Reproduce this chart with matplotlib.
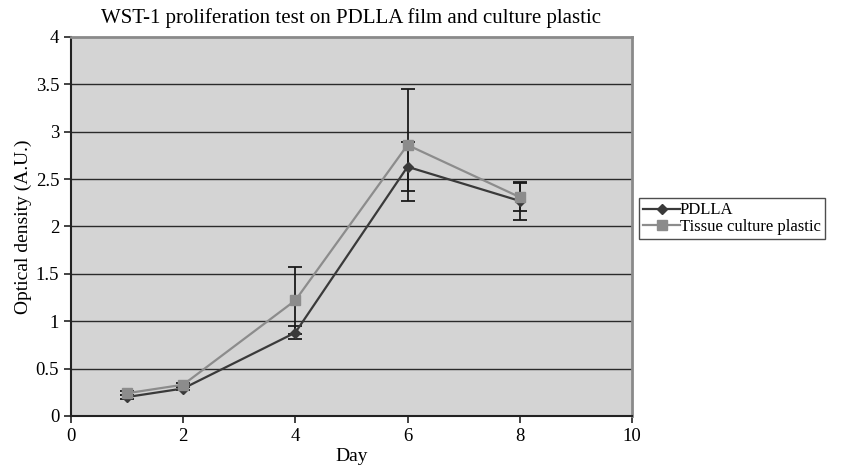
import matplotlib
matplotlib.use("Agg")
import matplotlib.pyplot as plt

days = [1, 2, 4, 6, 8]
pdlla = [0.20, 0.29, 0.88, 2.63, 2.27]
pdlla_err = [0.02, 0.02, 0.07, 0.26, 0.20]
tcp = [0.24, 0.33, 1.22, 2.86, 2.31]
tcp_err = [0.02, 0.02, 0.35, 0.59, 0.15]

plt.rcParams['font.family'] = ['Liberation Serif', 'DejaVu Serif']

fig = plt.figure(figsize=(8.46, 4.74), dpi=100)
ax = fig.add_axes([0.0839, 0.1224, 0.663, 0.7996])
ax.set_facecolor('#d4d4d4')

for y in [0.5, 1, 1.5, 2, 2.5, 3, 3.5]:
    ax.axhline(y, color='#2a2a2a', lw=1.0, zorder=1)

ax.errorbar(days, pdlla, yerr=pdlla_err, fmt='none', ecolor='#1a1a1a', elinewidth=1.3,
            capsize=5, capthick=1.3, zorder=3)
ax.errorbar(days, tcp, yerr=tcp_err, fmt='none', ecolor='#1a1a1a', elinewidth=1.3,
            capsize=5, capthick=1.3, zorder=3)
ax.plot(days, pdlla, color='#3a3a3a', lw=1.6, marker='D', ms=5, label='PDLLA', zorder=4)
ax.plot(days, tcp, color='#8c8c8c', lw=1.6, marker='s', ms=6.5,
        label='Tissue culture plastic', zorder=4)

ax.set_xlim(0, 10)
ax.set_ylim(0, 4)
ax.set_xticks([0, 2, 4, 6, 8, 10])
ax.set_yticks([0, 0.5, 1, 1.5, 2, 2.5, 3, 3.5, 4])
ax.set_yticklabels(['0', '0.5', '1', '1.5', '2', '2.5', '3', '3.5', '4'])
ax.tick_params(direction='out', length=5, labelsize=13.5, color='#222222', width=1.2)
for s in ['top', 'right']:
    ax.spines[s].set_color('#8a8a8a')
    ax.spines[s].set_linewidth(2)
for s in ['left', 'bottom']:
    ax.spines[s].set_color('#222222')
    ax.spines[s].set_linewidth(1.5)

ax.set_xlabel('Day', fontsize=14, labelpad=2)
ax.set_ylabel('Optical density (A.U.)', fontsize=14, labelpad=3)
ax.set_title('WST-1 proliferation test on PDLLA film and culture plastic', fontsize=15, pad=10)

leg = ax.legend(loc='center left', bbox_to_anchor=(1.013, 0.52), frameon=True, fancybox=False,
                fontsize=12, handlelength=2.2, handletextpad=0.0, borderpad=0.25,
                labelspacing=0.05, borderaxespad=0)
leg.get_frame().set_edgecolor('#222222')
leg.get_frame().set_linewidth(1.0)

fig.savefig('out.png', dpi=100)
